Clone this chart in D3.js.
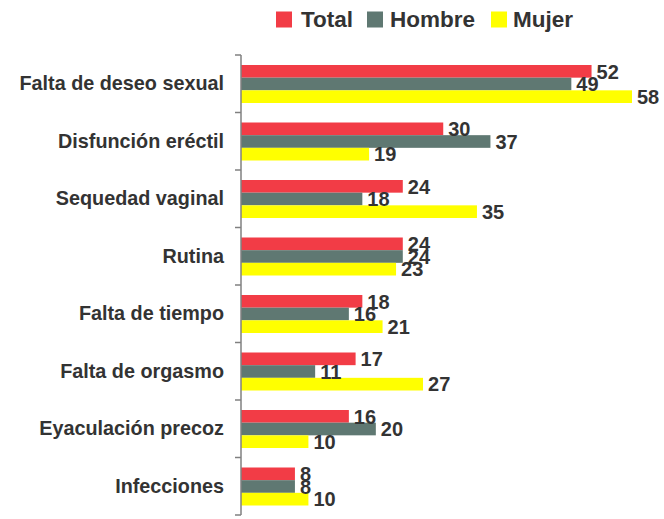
<!DOCTYPE html>
<html><head><meta charset="utf-8">
<script src="https://cdn.jsdelivr.net/npm/d3@7"></script>
<style>body{margin:0;background:#fff}svg{display:block}</style>
</head><body>
<script>
const categories = ["Falta de deseo sexual","Disfunción eréctil","Sequedad vaginal","Rutina","Falta de tiempo","Falta de orgasmo","Eyaculación precoz","Infecciones"];
const seriesNames = ["Total","Hombre","Mujer"];
const total = [52,30,24,24,18,17,16,8];
const hombre = [49,37,18,24,16,11,20,8];
const mujer = [58,19,35,23,21,27,10,10];
const colors = ["#F23C46","#5F7872","#FFFF00"];

(function(){
const W=664,H=519;
const svg=d3.select("body").append("svg").attr("width",W).attr("height",H);
const x0=241, yTop=55, yBottom=515;
const x=d3.scaleLinear().domain([0,58]).range([x0,x0+391]);
const y=d3.scaleBand().domain(categories).range([yTop,yBottom]).paddingInner(0).paddingOuter(0);
const inner=d3.scaleBand().domain(seriesNames).range([10,48]);
const series=[total,hombre,mujer];
const font="'Liberation Sans', Arial, sans-serif";

series.forEach((vals,si)=>{
  const g=svg.append("g");
  g.selectAll("rect").data(vals).enter().append("rect")
    .attr("x",x(0)).attr("y",(d,i)=>y(categories[i])+inner(seriesNames[si]))
    .attr("width",d=>x(d)-x(0)).attr("height",inner.bandwidth())
    .attr("fill",colors[si]);
});
series.forEach((vals,si)=>{
  svg.append("g").selectAll("text").data(vals).enter().append("text")
    .attr("x",d=>x(d)+5).attr("y",(d,i)=>y(categories[i])+inner(seriesNames[si])+inner.bandwidth()/2)
    .attr("dy","0.36em").attr("font-family",font).attr("font-weight","bold")
    .attr("font-size",20).attr("fill","#333").text(d=>d);
});

const ax=svg.append("g").attr("transform",`translate(${x0},0)`)
  .call(d3.axisLeft(y).tickSize(0).tickPadding(17));
ax.select(".domain").remove();
ax.selectAll("text").attr("font-family",font).attr("font-weight","bold").attr("font-size",19.8).attr("fill","#333");
svg.append("line").attr("x1",x0).attr("x2",x0).attr("y1",yTop).attr("y2",yBottom).attr("stroke","#808080").attr("stroke-width",1.5);
const bounds=categories.map(c=>y(c)).concat([yBottom]);
svg.append("g").selectAll("line").data(bounds).enter().append("line")
  .attr("x1",x0-6).attr("x2",x0).attr("y1",d=>d).attr("y2",d=>d).attr("stroke","#808080").attr("stroke-width",1.5);

const legX=[276,367,491];
const legT=[301,390,513];
seriesNames.forEach((n,i)=>{
  svg.append("rect").attr("x",legX[i]).attr("y",11.5).attr("width",16).attr("height",16).attr("fill",colors[i]);
  svg.append("text").attr("x",legT[i]).attr("y",27).attr("font-family",font).attr("font-weight","bold")
    .attr("font-size",22.5).attr("fill","#333").text(n);
});
})();
</script>
</body></html>
